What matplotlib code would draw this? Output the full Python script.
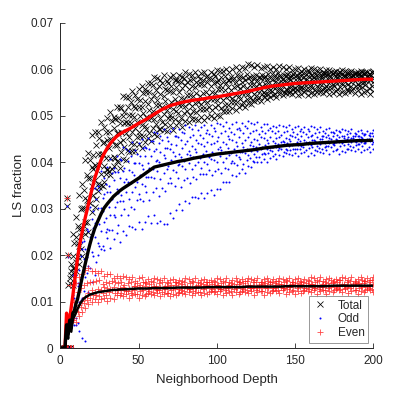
import matplotlib
matplotlib.use('Agg')
import matplotlib.pyplot as plt
import numpy as np

plt.rcParams['font.family'] = ['Liberation Sans', 'DejaVu Sans']

# ---------------- data (values in units of 1e-4) ----------------
mean_depth = list(range(1, 21)) + list(range(22, 41, 2)) + list(range(45, 201, 5))
total_mean = [0, 0, 0, 75, 45, 62, 88, 112, 140, 165, 192, 215, 233, 250, 266, 281, 295, 310, 325, 338,
              365, 385, 404, 418, 430, 440, 448, 455, 460, 464,
              473, 483, 492, 503, 513, 521, 526, 530, 533, 535, 538, 540, 543, 546, 549, 552, 556, 560,
              563, 565, 567, 569, 570, 571, 572, 573, 574, 575, 576, 577, 578, 578]
odd_mean = [0, 0, 0, 50, 30, 60, 45, 75, 80, 95, 105, 120, 136, 152, 167, 182, 196, 211, 224, 236,
            257, 273, 288, 301, 310, 318, 326, 332, 338, 343,
            354, 365, 377, 389, 393, 397, 401, 404, 408, 411, 414, 417, 419, 421, 423, 425, 427, 430,
            432, 434, 436, 437, 438, 440, 441, 442, 443, 444, 445, 446, 446, 447]
even_mean = [0, 0, 0, 40, 20, 55, 35, 62, 68, 76, 84, 91, 97, 102, 106, 109, 111, 113, 115, 116,
             118, 120, 121, 122, 123, 124, 125, 125, 126, 126,
             127, 128, 128, 129, 129, 129, 130, 130, 130, 130, 131, 131, 131, 131, 131, 132, 132, 132,
             132, 132, 133, 133, 133, 133, 133, 133, 134, 134, 134, 134, 134, 134]

even_depths = list(range(2, 201, 2))
odd_depths = list(range(1, 200, 2))

total_run1 = [0, 323, 150, 246, 281, 330, 352, 404, 420, 458,
              465, 465, 487, 475, 494, 508, 496, 519, 518, 541,
              540, 539, 553, 544, 556, 564, 556, 570, 569, 583,
              581, 577, 587, 575, 583, 588, 576, 587, 582, 593,
              590, 587, 593, 585, 591, 594, 586, 593, 590, 597,
              596, 595, 601, 594, 601, 604, 597, 604, 603, 610,
              608, 604, 608, 602, 605, 606, 600, 605, 601, 606,
              605, 601, 605, 598, 601, 603, 596, 601, 597, 602,
              601, 597, 601, 594, 597, 598, 592, 596, 593, 597,
              596, 593, 596, 590, 593, 595, 589, 593, 590, 595]
total_run2 = [0, 0, 200, 180, 225, 262, 300, 340, 372, 405,
              416, 436, 451, 440, 464, 464, 488, 493, 494, 517,
              507, 519, 528, 520, 535, 534, 549, 551, 551, 565,
              555, 563, 569, 557, 569, 564, 576, 574, 571, 581,
              571, 577, 579, 572, 578, 576, 582, 581, 578, 584,
              576, 582, 584, 577, 583, 581, 587, 586, 583, 589,
              582, 586, 588, 582, 587, 585, 590, 589, 587, 591,
              585, 588, 590, 585, 589, 587, 591, 591, 589, 593,
              587, 590, 592, 586, 591, 589, 594, 593, 590, 594,
              588, 591, 593, 587, 592, 589, 594, 593, 590, 594]
total_run3 = [0, 305, 140, 198, 238, 255, 302, 322, 366, 390,
              393, 417, 418, 442, 448, 449, 473, 462, 483, 498,
              487, 502, 501, 516, 518, 518, 532, 524, 536, 545,
              534, 546, 542, 554, 553, 550, 561, 550, 559, 565,
              556, 563, 561, 568, 567, 565, 571, 564, 570, 573,
              566, 572, 570, 577, 576, 573, 579, 572, 577, 580,
              574, 579, 577, 581, 580, 579, 581, 578, 581, 584,
              578, 584, 581, 585, 584, 583, 586, 582, 586, 588,
              582, 587, 585, 590, 587, 586, 590, 585, 588, 590,
              584, 589, 586, 591, 590, 587, 591, 585, 589, 591]
total_run4 = [0, 0, 135, 165, 172, 226, 240, 302, 318, 365,
              384, 391, 393, 418, 408, 430, 446, 437, 462, 464,
              483, 484, 483, 496, 487, 498, 506, 497, 511, 509,
              522, 522, 519, 531, 520, 530, 536, 526, 538, 535,
              545, 544, 542, 548, 541, 548, 551, 544, 551, 549,
              557, 556, 554, 561, 554, 562, 563, 560, 563, 560,
              566, 565, 563, 568, 563, 567, 570, 565, 571, 569,
              574, 574, 572, 577, 571, 574, 577, 572, 576, 574,
              579, 579, 576, 580, 575, 578, 581, 576, 580, 578,
              583, 582, 580, 584, 578, 581, 583, 577, 583, 580]
total_run5 = [0, 0, 0, 172, 184, 219, 258, 270, 316, 348,
              362, 353, 375, 392, 383, 409, 411, 437, 444, 447,
              462, 453, 465, 473, 465, 479, 478, 492, 494, 493,
              505, 494, 504, 511, 501, 513, 510, 523, 522, 520,
              527, 521, 527, 530, 524, 531, 529, 536, 536, 534,
              540, 534, 540, 543, 537, 544, 542, 549, 549, 547,
              552, 547, 552, 555, 550, 556, 554, 561, 561, 559,
              564, 558, 562, 564, 559, 565, 562, 568, 567, 565,
              569, 564, 567, 570, 564, 569, 567, 572, 572, 569,
              573, 568, 571, 574, 568, 573, 571, 576, 576, 573]
total_run6 = [0, 0, 0, 156, 163, 196, 212, 262, 270, 312,
              329, 320, 346, 348, 374, 381, 384, 409, 400, 422,
              433, 425, 440, 439, 454, 456, 456, 470, 462, 474,
              482, 472, 485, 482, 495, 495, 493, 505, 495, 505,
              509, 502, 509, 508, 515, 514, 513, 519, 512, 518,
              522, 516, 523, 522, 530, 529, 528, 535, 529, 535,
              538, 534, 541, 539, 546, 547, 546, 552, 547, 552,
              555, 550, 555, 553, 558, 557, 556, 560, 557, 558,
              560, 554, 559, 557, 560, 560, 559, 563, 558, 561,
              563, 557, 562, 559, 563, 564, 562, 566, 560, 563]
total_run7 = [0, 0, 0, 136, 166, 180, 197, 246, 250, 293,
              304, 337, 350, 357, 386, 373, 391, 403, 388, 407,
              405, 421, 423, 424, 438, 430, 443, 452, 445, 460,
              457, 470, 469, 467, 479, 469, 479, 485, 475, 488,
              485, 493, 492, 491, 497, 490, 497, 500, 494, 501,
              500, 509, 510, 509, 517, 511, 519, 523, 518, 526,
              525, 532, 533, 532, 539, 535, 540, 544, 540, 547,
              544, 549, 549, 546, 550, 544, 547, 550, 544, 549,
              546, 551, 550, 548, 552, 546, 549, 552, 546, 551,
              548, 553, 552, 549, 554, 547, 551, 553, 547, 552]

odd_run1 = [0, 305, 0, 114, 172, 220, 229, 284, 302, 341,
            344, 348, 380, 366, 390, 406, 387, 413, 407, 432,
            429, 424, 442, 425, 440, 450, 433, 452, 446, 465,
            463, 456, 472, 453, 466, 473, 455, 471, 464, 480,
            475, 470, 480, 468, 476, 480, 468, 479, 473, 484,
            482, 477, 487, 474, 481, 486, 474, 484, 478, 489,
            484, 481, 485, 476, 481, 482, 473, 478, 475, 480,
            478, 475, 479, 471, 476, 478, 470, 475, 472, 478,
            475, 472, 476, 467, 472, 473, 464, 469, 466, 471,
            469, 466, 470, 462, 467, 469, 461, 466, 463, 469]
odd_run2 = [0, 0, 195, 44, 108, 140, 197, 231, 256, 304,
            294, 320, 339, 323, 352, 348, 376, 379, 378, 405,
            388, 403, 413, 397, 417, 412, 431, 431, 427, 445,
            428, 440, 448, 430, 446, 439, 455, 453, 447, 462,
            446, 454, 459, 447, 458, 452, 463, 461, 457, 467,
            454, 462, 466, 455, 465, 460, 470, 469, 463, 473,
            462, 467, 468, 460, 466, 462, 468, 466, 462, 467,
            459, 464, 466, 458, 464, 461, 466, 464, 461, 466,
            458, 463, 465, 456, 462, 459, 464, 462, 459, 464,
            456, 461, 463, 455, 461, 457, 463, 461, 458, 463]
odd_run3 = [0, 0, 0, 158, 156, 168, 212, 212, 252, 278,
            268, 301, 301, 332, 336, 335, 361, 343, 365, 380,
            363, 382, 378, 397, 398, 394, 413, 397, 413, 423,
            405, 421, 414, 430, 428, 421, 437, 418, 431, 438,
            423, 434, 429, 440, 438, 434, 444, 438, 440, 445,
            433, 444, 438, 449, 447, 443, 453, 440, 448, 453,
            443, 449, 447, 453, 451, 448, 453, 446, 451, 453,
            445, 451, 449, 455, 453, 450, 455, 448, 453, 455,
            447, 453, 450, 456, 454, 451, 457, 449, 454, 456,
            448, 454, 451, 457, 456, 453, 458, 450, 455, 457]
odd_run4 = [0, 0, 0, 76, 89, 133, 149, 192, 196, 238,
            258, 264, 266, 295, 279, 303, 321, 304, 333, 330,
            356, 357, 354, 373, 357, 373, 384, 368, 388, 384,
            402, 400, 394, 409, 391, 404, 412, 394, 410, 403,
            417, 415, 411, 421, 409, 418, 423, 411, 422, 417,
            429, 426, 422, 431, 420, 429, 434, 422, 432, 428,
            436, 435, 433, 439, 432, 437, 440, 433, 440, 438,
            444, 443, 441, 445, 438, 443, 446, 438, 444, 442,
            448, 446, 444, 449, 441, 446, 449, 441, 447, 445,
            451, 449, 447, 451, 444, 449, 451, 443, 449, 447]
odd_run5 = [0, 0, 0, 0, 64, 98, 107, 152, 176, 206,
            238, 225, 252, 272, 257, 287, 285, 314, 317, 316,
            336, 321, 336, 347, 332, 352, 348, 367, 368, 365,
            381, 363, 376, 386, 366, 383, 378, 395, 391, 385,
            397, 385, 394, 399, 388, 399, 395, 406, 405, 401,
            412, 400, 409, 414, 403, 414, 410, 421, 420, 416,
            423, 417, 423, 427, 420, 427, 426, 433, 433, 431,
            437, 429, 434, 437, 429, 436, 434, 440, 438, 436,
            441, 434, 438, 442, 435, 441, 438, 444, 443, 440,
            445, 438, 442, 445, 438, 444, 441, 447, 446, 443]
odd_run6 = [0, 0, 0, 0, 50, 54, 104, 122, 162, 172,
            198, 186, 219, 219, 250, 254, 254, 281, 264, 287,
            300, 285, 304, 300, 319, 320, 316, 335, 319, 335,
            344, 327, 344, 338, 355, 354, 348, 365, 347, 361,
            366, 355, 367, 363, 375, 374, 375, 382, 371, 380,
            386, 376, 388, 385, 397, 397, 394, 406, 395, 405,
            409, 403, 411, 410, 418, 418, 419, 424, 418, 425,
            428, 421, 426, 425, 429, 429, 428, 433, 425, 431,
            433, 426, 431, 429, 432, 434, 432, 437, 429, 435,
            437, 429, 435, 433, 437, 438, 435, 440, 432, 438]
odd_run7 = [0, 0, 0, 62, 50, 36, 22, 15, 120, 143,
            157, 199, 213, 211, 236, 216, 235, 248, 227, 251,
            244, 262, 261, 255, 271, 256, 272, 283, 268, 287,
            269, 274, 267, 267, 291, 279, 297, 310, 296, 316,
            312, 324, 324, 322, 334, 323, 333, 340, 329, 342,
            341, 356, 358, 358, 372, 369, 376, 385, 377, 392,
            390, 399, 399, 399, 406, 400, 408, 412, 407, 415,
            412, 419, 417, 415, 420, 413, 419, 421, 413, 419,
            416, 423, 422, 419, 425, 417, 423, 425, 418, 424,
            421, 428, 426, 424, 429, 421, 426, 428, 421, 427]

even_run1 = [0, 323, 0, 0, 140, 152, 160, 168, 172, 165,
             166, 161, 165, 155, 159, 159, 150, 154, 150, 154,
             152, 148, 153, 145, 150, 152, 143, 148, 145, 151,
             149, 146, 151, 143, 147, 149, 141, 147, 144, 150,
             148, 145, 150, 142, 147, 149, 141, 147, 144, 150,
             148, 145, 150, 142, 147, 150, 142, 148, 145, 151,
             149, 146, 151, 143, 148, 150, 142, 148, 145, 151,
             149, 146, 151, 143, 148, 151, 143, 149, 146, 152,
             150, 147, 152, 144, 149, 151, 143, 149, 146, 152,
             150, 147, 152, 144, 149, 152, 144, 150, 147, 153]
even_run2 = [0, 0, 200, 0, 100, 120, 130, 136, 140, 143,
             141, 145, 147, 138, 143, 140, 145, 143, 139, 143,
             135, 140, 142, 134, 139, 136, 142, 140, 137, 142,
             134, 139, 141, 133, 139, 136, 142, 140, 137, 142,
             134, 139, 141, 133, 139, 137, 143, 141, 138, 143,
             135, 140, 142, 134, 140, 138, 144, 142, 139, 144,
             136, 141, 143, 135, 141, 139, 145, 143, 140, 145,
             137, 142, 144, 136, 142, 139, 145, 143, 140, 145,
             137, 142, 144, 136, 142, 140, 146, 144, 141, 146,
             138, 143, 145, 137, 143, 140, 146, 144, 141, 146]
even_run3 = [0, 0, 135, 60, 80, 92, 102, 110, 118, 125,
             120, 126, 124, 131, 129, 127, 132, 124, 129, 131,
             123, 129, 127, 133, 131, 129, 133, 126, 131, 133,
             125, 131, 128, 134, 132, 130, 135, 127, 132, 134,
             126, 132, 129, 135, 133, 131, 136, 128, 133, 135,
             127, 133, 130, 136, 134, 132, 137, 129, 134, 136,
             128, 134, 131, 137, 135, 133, 138, 130, 135, 137,
             129, 135, 132, 138, 136, 133, 138, 130, 135, 137,
             129, 135, 132, 138, 136, 134, 139, 131, 136, 138,
             130, 136, 133, 139, 137, 134, 139, 131, 136, 138]
even_run4 = [0, 0, 0, 0, 65, 78, 88, 96, 104, 108,
             115, 114, 112, 118, 115, 121, 124, 118, 125, 118,
             124, 122, 119, 125, 117, 122, 125, 117, 123, 120,
             126, 124, 121, 127, 119, 124, 127, 119, 125, 122,
             128, 126, 123, 128, 121, 126, 128, 120, 126, 123,
             129, 127, 124, 129, 122, 127, 129, 121, 127, 124,
             130, 128, 125, 130, 123, 128, 130, 122, 128, 125,
             131, 129, 126, 131, 124, 129, 131, 123, 129, 126,
             132, 130, 127, 132, 125, 130, 132, 124, 130, 127,
             133, 131, 128, 133, 125, 130, 132, 124, 130, 127]
even_run5 = [0, 0, 0, 0, 57, 68, 78, 86, 94, 100,
             105, 98, 105, 108, 101, 108, 106, 114, 113, 111,
             116, 108, 113, 116, 108, 114, 112, 118, 117, 114,
             119, 111, 116, 119, 111, 117, 115, 121, 119, 116,
             121, 113, 118, 120, 113, 119, 116, 122, 120, 117,
             122, 114, 119, 121, 114, 120, 117, 123, 121, 118,
             123, 115, 120, 122, 115, 121, 118, 124, 122, 119,
             124, 116, 121, 123, 116, 122, 119, 125, 123, 120,
             125, 117, 122, 124, 117, 123, 120, 126, 124, 121,
             126, 118, 123, 125, 117, 123, 120, 126, 124, 121]

total_runs = [(even_depths, total_run1), (odd_depths, total_run2), (even_depths, total_run3),
              (odd_depths, total_run4), (even_depths, total_run5), (odd_depths, total_run6),
              (even_depths, total_run7)]
odd_runs = [(even_depths, odd_run1), (odd_depths, odd_run2), (even_depths, odd_run3),
            (odd_depths, odd_run4), (even_depths, odd_run5), (odd_depths, odd_run6),
            (even_depths, odd_run7)]
even_runs = [(even_depths, even_run1), (odd_depths, even_run2), (even_depths, even_run3),
             (odd_depths, even_run4), (even_depths, even_run5)]

SCALE = 1e-4
x_ticks = [0, 50, 100, 150, 200]
y_ticks = [0, 0.01, 0.02, 0.03, 0.04, 0.05, 0.06, 0.07]
y_tick_labels = ['0', '0.01', '0.02', '0.03', '0.04', '0.05', '0.06', '0.07']

# ---------------- plot ----------------
fig = plt.figure(figsize=(3.99, 3.99), dpi=100)
ax = fig.add_axes([0.1511, 0.1278, 0.7845, 0.8158])

axc = '#262626'
for i, (d, v) in enumerate(total_runs):
    ax.plot(d, np.array(v) * SCALE, linestyle='none', marker='x', color='black',
            markersize=4.0, markeredgewidth=0.55, label='Total' if i == 0 else None)
for i, (d, v) in enumerate(odd_runs):
    ax.plot(d, np.array(v) * SCALE, linestyle='none', marker='.', color='blue',
            markersize=2.9, markeredgewidth=0, label='Odd' if i == 0 else None)
for i, (d, v) in enumerate(even_runs):
    ax.plot(d, np.array(v) * SCALE, linestyle='none', marker='+', color='#ff1a1a',
            markersize=4.6, markeredgewidth=0.6, alpha=0.8, label='Even' if i == 0 else None)

ax.plot(mean_depth, np.array(total_mean) * SCALE, color='red', linewidth=2.4)
ax.plot(mean_depth, np.array(odd_mean) * SCALE, color='black', linewidth=2.4)
ax.plot(mean_depth, np.array(even_mean) * SCALE, color='black', linewidth=1.8)

ax.set_xlim(0, 200)
ax.set_ylim(0, 0.07)
ax.set_xticks(x_ticks)
ax.set_xticklabels([str(t) for t in x_ticks])
ax.set_yticks(y_ticks)
ax.set_yticklabels(y_tick_labels)
for s in ['top', 'right']:
    ax.spines[s].set_visible(False)
for s in ['left', 'bottom']:
    ax.spines[s].set_color(axc)
    ax.spines[s].set_linewidth(0.7)
ax.tick_params(direction='in', length=3.5, width=0.6, colors=axc, labelsize=8.5)
ax.tick_params(axis='x', pad=5)
ax.tick_params(axis='y', pad=5)
ax.set_xlabel('Neighborhood Depth', fontsize=9.5, color=axc, labelpad=5)
ax.set_ylabel('LS fraction', fontsize=9.5, color=axc, labelpad=4)

leg = ax.legend(loc='lower right', fontsize=8.5, frameon=True, fancybox=False,
                edgecolor='#7f7f7f', handlelength=1.2, handletextpad=0.9,
                borderpad=0.3, labelspacing=0.15, borderaxespad=0.45, markerscale=1.0)
leg.get_frame().set_linewidth(0.7)
for t in leg.get_texts():
    t.set_color(axc)

fig.savefig('out.png', dpi=100)
